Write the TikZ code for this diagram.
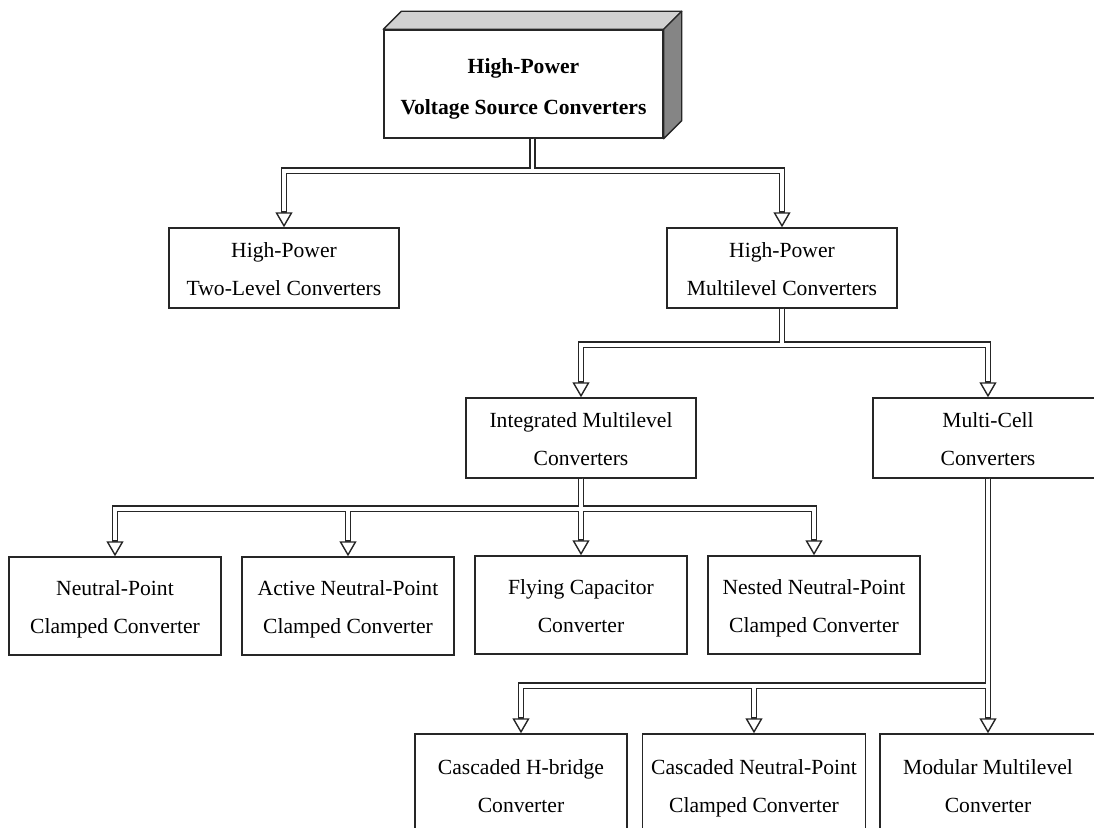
\documentclass[tikz,border=0pt]{standalone}
\usepackage{fontspec}
\setmainfont{Liberation Serif}
\usetikzlibrary{arrows.meta,calc}

\newcommand{\lnstrut}{\rule[-3pt]{0pt}{14.5pt}}
\newcommand{\srcstrut}{\rule[-3pt]{0pt}{16pt}}

\begin{document}
\begin{tikzpicture}[x=0.5pt, y=-0.5pt,
    box/.style={rectangle, draw=black!85, line width=0.7pt, fill=white, align=flush center, inner xsep=2.5pt, inner ysep=2pt,
        font=\fontsize{10.8}{19}\selectfont, execute at begin node=\lnstrut, execute at end node=\lnstrut},
    midbox/.style={box, text width=110pt, minimum height=40pt},
    leafbox/.style={box, text width=101pt, minimum height=49pt},
    lowbox/.style={box, minimum height=51pt},
    srcbox/.style={box, text width=134.5pt, minimum height=54pt, font=\fontsize{10.8}{20.5}\selectfont\bfseries,
        execute at begin node=\srcstrut, execute at end node=\srcstrut},
    topface/.style={fill=black!18, draw=black!85, line width=0.7pt, line join=round},
    sideface/.style={fill=black!48, draw=black!85, line width=0.7pt, line join=round},
    wire/.style={draw=black!85, line width=3.3pt, -{Triangle[length=7.5pt, width=8.5pt, line width=0.7pt, fill=white]}},
    wirecore/.style={draw=white, line width=1.9pt, shorten >=7.9pt}
]
    \useasboundingbox (0,0) rectangle (1094,828);
    \clip (0,0) rectangle (1094,828);

    % Root box (3D)
    \node[srcbox] (src) at (523.5,84) {High-Power\\Voltage Source Converters};
    \filldraw[topface] (src.north west) -- ++(18,-18) -- ($(src.north east)+(18,-18)$) -- (src.north east) -- cycle;
    \filldraw[sideface] (src.north east) -- ++(18,-18) -- ($(src.south east)+(18,-18)$) -- (src.south east) -- cycle;
    \coordinate (srcout) at ([xshift=4.5pt]src.south);

    % Second and third level
    \node[midbox] (two) at (284,268) {High-Power\\Two-Level Converters};
    \node[midbox] (multi) at (782,268) {High-Power\\Multilevel Converters};
    \node[midbox] (integ) at (581,438) {Integrated Multilevel\\Converters};
    \node[midbox] (cell) at (988,438) {Multi-Cell\\Converters};

    % Leaves
    \node[leafbox] (npc) at (115,606) {Neutral-Point\\Clamped Converter};
    \node[leafbox] (anpc) at (348,606) {Active Neutral-Point\\Clamped Converter};
    \node[leafbox] (fc) at (581,605) {Flying Capacitor\\Converter};
    \node[leafbox] (nnpc) at (814,605) {Nested Neutral-Point\\Clamped Converter};
    \node[lowbox, text width=101pt] (chb) at (521,785) {Cascaded H-bridge\\Converter};
    \node[lowbox, text width=106.5pt] (cnpc) at (754,785) {Cascaded Neutral-Point\\Clamped Converter};
    \node[lowbox, text width=103pt] (mmc) at (988,785) {Modular Multilevel\\Converter};

    % Double-line connectors: outline first, then the white core
    \foreach \from/\to/\drop in {srcout/two/32, srcout/multi/32, multi.south/integ/36, multi.south/cell/36,
        integ.south/npc/30, integ.south/anpc/30, integ.south/fc/30, integ.south/nnpc/30,
        cell.south/chb/207, cell.south/cnpc/207, cell.south/mmc/207}
        \draw[wire] (\from) -- ++(0,\drop) -| (\to.north);
    \foreach \from/\to/\drop in {srcout/two/32, srcout/multi/32, multi.south/integ/36, multi.south/cell/36,
        integ.south/npc/30, integ.south/anpc/30, integ.south/fc/30, integ.south/nnpc/30,
        cell.south/chb/207, cell.south/cnpc/207, cell.south/mmc/207}
        \draw[wirecore] (\from) -- ++(0,\drop) -| (\to.north);
\end{tikzpicture}
\end{document}
